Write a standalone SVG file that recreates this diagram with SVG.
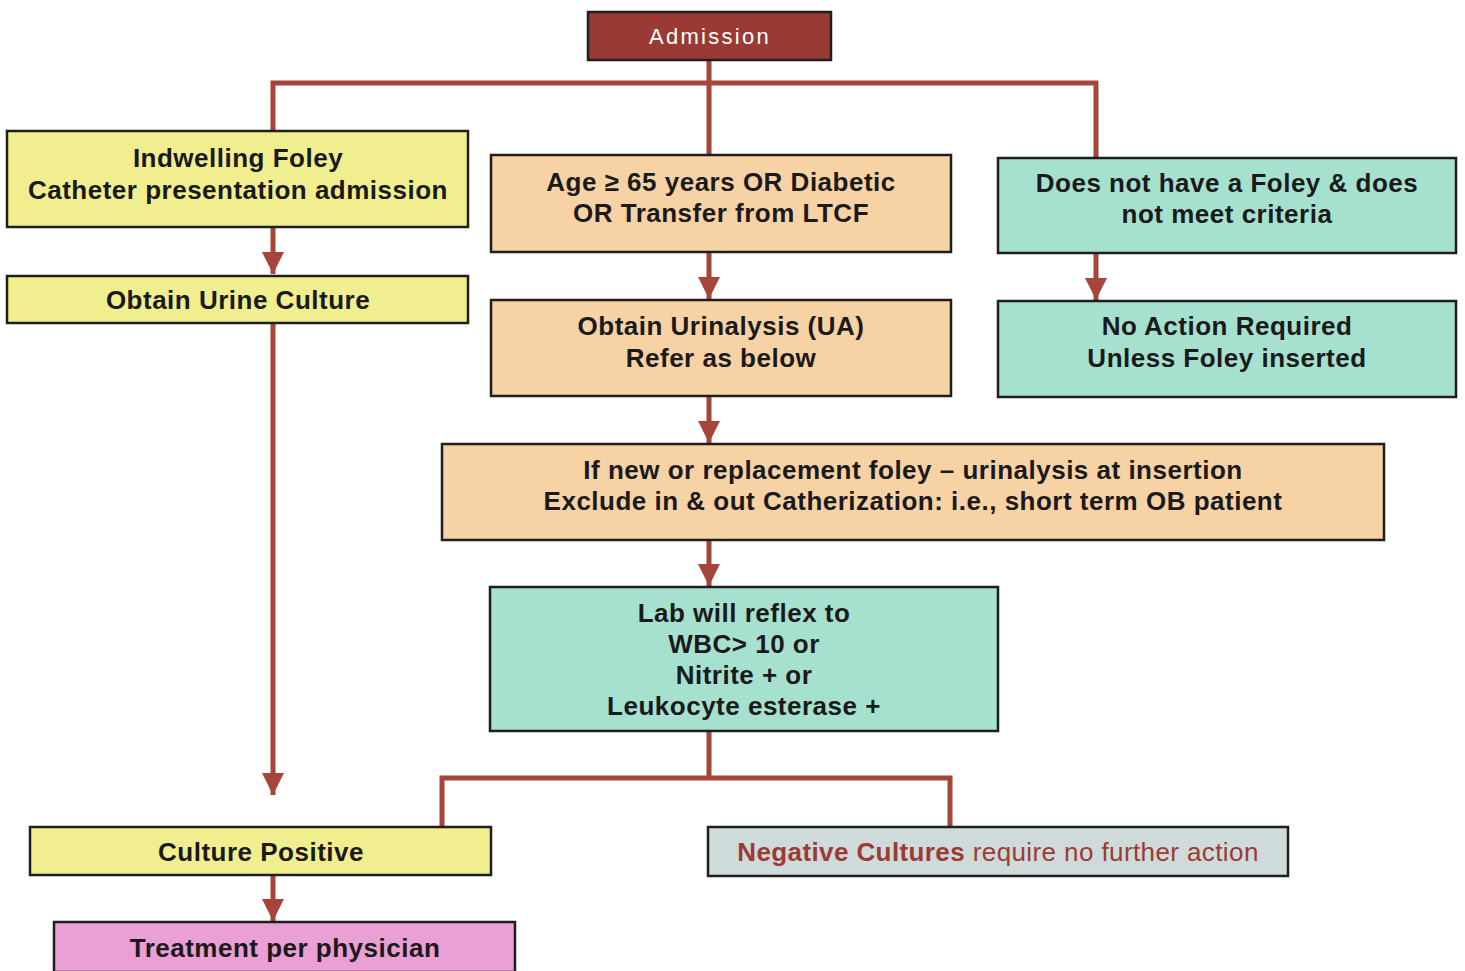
<svg xmlns="http://www.w3.org/2000/svg" width="1465" height="971" viewBox="0 0 1465 971">
<style>
.box{stroke:#1e1e1e;stroke-width:2.5}
.y{fill:#f1ee8f}.o{fill:#f7d2a5}.t{fill:#a6e0cf}.p{fill:#ea9fd5}.g{fill:#cfdada}.r{fill:#9a3a34}
.lbl{font-family:"Liberation Sans",Arial,sans-serif;font-weight:bold;font-size:26px;letter-spacing:0.5px;fill:#1a1a1a;text-anchor:middle}
.c{fill:none;stroke:#a6453b;stroke-width:5}
</style>
<defs>
<marker id="ah" markerUnits="userSpaceOnUse" markerWidth="24" markerHeight="22" refX="22" refY="11" orient="auto" viewBox="0 0 24 22">
<path d="M0,0 L22,11 L0,22 Z" fill="#a6453b"/>
</marker>
</defs>
<g id="connectors">
<path class="c" d="M709,60 V83 M273,131 V83 H1096 V158 M709,83 V155"/>
<path class="c" d="M273,227 V274" marker-end="url(#ah)"/>
<path class="c" d="M273,323 V795" marker-end="url(#ah)"/>
<path class="c" d="M273,875 V921" marker-end="url(#ah)"/>
<path class="c" d="M709,252 V299" marker-end="url(#ah)"/>
<path class="c" d="M709,396 V443" marker-end="url(#ah)"/>
<path class="c" d="M709,540 V586" marker-end="url(#ah)"/>
<path class="c" d="M1096,253 V300" marker-end="url(#ah)"/>
<path class="c" d="M709,731 V778 M442,827 V778 H950 V827"/>
</g>
<g id="admission">
<rect class="box r" x="588" y="12" width="243" height="48"/>
<text x="710" y="44" font-family="'Liberation Sans',Arial,sans-serif" font-size="22" letter-spacing="2.3" fill="#ffffff" text-anchor="middle">Admission</text>
</g>
<g id="indwelling">
<rect class="box y" x="7" y="131" width="461" height="96"/>
<text class="lbl" x="238" y="167">Indwelling Foley</text>
<text class="lbl" x="238" y="199">Catheter presentation admission</text>
</g>
<g id="urine-culture">
<rect class="box y" x="7" y="276" width="461" height="47"/>
<text class="lbl" x="238" y="309">Obtain Urine Culture</text>
</g>
<g id="culture-positive">
<rect class="box y" x="30" y="827" width="461" height="48"/>
<text class="lbl" x="261" y="861">Culture Positive</text>
</g>
<g id="treatment">
<rect class="box p" x="54" y="922" width="461" height="50"/>
<text class="lbl" x="285" y="957">Treatment per physician</text>
</g>
<g id="age">
<rect class="box o" x="491" y="155" width="460" height="97"/>
<text class="lbl" x="721" y="191">Age ≥ 65 years OR Diabetic</text>
<text class="lbl" x="721" y="222">OR Transfer from LTCF</text>
</g>
<g id="urinalysis">
<rect class="box o" x="491" y="300" width="460" height="96"/>
<text class="lbl" x="721" y="335">Obtain Urinalysis (UA)</text>
<text class="lbl" x="721" y="367">Refer as below</text>
</g>
<g id="new-foley">
<rect class="box o" x="442" y="444" width="942" height="96"/>
<text class="lbl" x="913" y="479">If new or replacement foley – urinalysis at insertion</text>
<text class="lbl" x="913" y="510">Exclude in &amp; out Catherization: i.e., short term OB patient</text>
</g>
<g id="lab">
<rect class="box t" x="490" y="587" width="508" height="144"/>
<text class="lbl" x="744" y="622">Lab will reflex to</text>
<text class="lbl" x="744" y="653">WBC&gt; 10 or</text>
<text class="lbl" x="744" y="684">Nitrite + or</text>
<text class="lbl" x="744" y="715">Leukocyte esterase +</text>
</g>
<g id="negative">
<rect class="box g" x="708" y="827" width="580" height="49"/>
<text x="998" y="861" font-family="'Liberation Sans',Arial,sans-serif" font-size="26" letter-spacing="0.4" fill="#9c3b33" text-anchor="middle"><tspan font-weight="bold">Negative Cultures</tspan> require no further action</text>
</g>
<g id="no-foley">
<rect class="box t" x="998" y="158" width="458" height="95"/>
<text class="lbl" x="1227" y="192">Does not have a Foley &amp; does</text>
<text class="lbl" x="1227" y="223">not meet criteria</text>
</g>
<g id="no-action">
<rect class="box t" x="998" y="301" width="458" height="96"/>
<text class="lbl" x="1227" y="335">No Action Required</text>
<text class="lbl" x="1227" y="367">Unless Foley inserted</text>
</g>
</svg>
